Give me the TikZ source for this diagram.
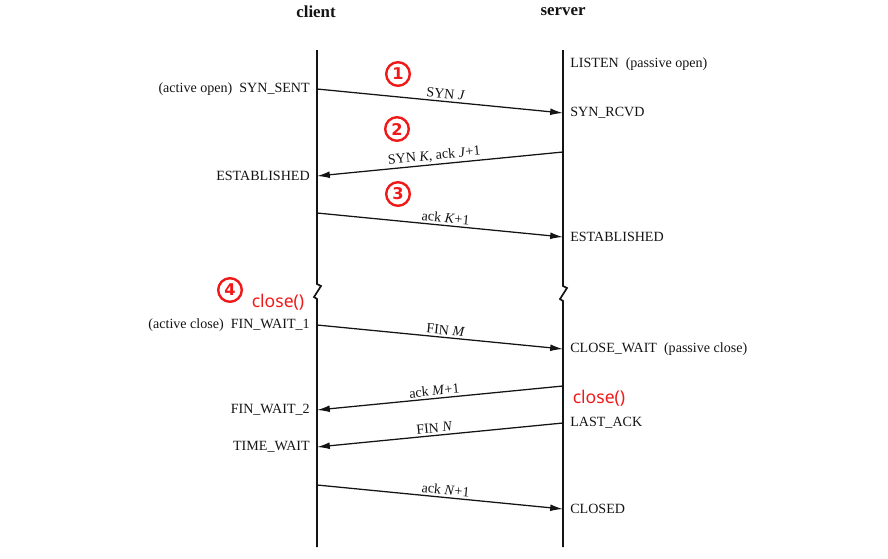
\documentclass[tikz,border=0pt]{standalone}
\usepackage{fontspec}
\setmainfont{Liberation Serif}
\newfontfamily\callfont{Noto Sans}
\newfontfamily\numfont{DejaVu Sans}
\usetikzlibrary{positioning,arrows.meta}
\definecolor{tcpRed}{RGB}{240,25,25}
\definecolor{tcpInk}{RGB}{20,20,20}
\tikzset{
    base/.style={font=\fontsize{10}{12}\selectfont, text=tcpInk, inner sep=1pt},
    header/.style={font=\fontsize{12}{14}\selectfont\bfseries, text=tcpInk},
    sstate/.style={base, anchor=west},
    cstate/.style={base, anchor=east},
    lifeline/.style={line width=1.2pt, color=tcpInk, line join=miter},
    msg/.style={-{Latex[length=3.2mm,width=1.7mm]}, line width=0.9pt, color=tcpInk},
    msglabel/.style={base, font=\fontsize{10}{12}\selectfont, sloped, above, pos=0.52, inner sep=1.5pt},
    stepnum/.style={circle, draw=tcpRed, line width=1.7pt, text=tcpRed, minimum size=5.9mm,
                    inner sep=0pt, font=\numfont\fontsize{11.5}{12}\selectfont\bfseries},
    callred/.style={font=\callfont\fontsize{12.5}{14}\selectfont, text=tcpRed, inner sep=1pt}
}

\begin{document}
\begin{tikzpicture}[x=0.025cm, y=-0.025cm]
  \useasboundingbox (0,0) rectangle (888,559);

  % Headers
  \node[header] (client) at (316,12) {client};
  \node[header] (server) at (563,12) {server};

  % Lifelines (with the break)
  \coordinate (cTop) at (317,50);
  \coordinate (cBot) at (317,547);
  \coordinate (sTop) at (563,50);
  \coordinate (sBot) at (563,547);
  \draw[lifeline] (cTop) -- (317,284) -- ++(4,2) -- ++(-7,11) -- ++(3,2) -- (cBot);
  \draw[lifeline] (sTop) -- (563,286) -- ++(4,2) -- ++(-7,11) -- ++(3,2) -- (sBot);

  % Points on the lifelines
  \coordinate (s0) at (563,64);
  \coordinate (c1) at (317,89);  \coordinate (s1) at (563,113);
  \coordinate (s2) at (563,152); \coordinate (c2) at (317,176);
  \coordinate (c3) at (317,213); \coordinate (s3) at (563,237);
  \coordinate (c4) at (317,325); \coordinate (s4) at (563,349);
  \coordinate (s5) at (563,386); \coordinate (c5) at (317,410);
  \coordinate (s6) at (563,423); \coordinate (c6) at (317,447);
  \coordinate (c7) at (317,485); \coordinate (s7) at (563,509);

  % Three-way handshake
  \draw[msg] (c1) -- (s1) node[msglabel] {SYN \textit{J}};
  \draw[msg] (s2) -- (c2) node[msglabel] {SYN \textit{K}, ack \textit{J}+1};
  \draw[msg] (c3) -- (s3) node[msglabel] {ack \textit{K}+1};

  % Connection termination
  \draw[msg] (c4) -- (s4) node[msglabel] {FIN \textit{M}};
  \draw[msg] (s5) -- (c5) node[msglabel] {ack \textit{M}+1};
  \draw[msg] (s6) -- (c6) node[msglabel] {FIN \textit{N}};
  \draw[msg] (c7) -- (s7) node[msglabel] {ack \textit{N}+1};

  % Server states
  \node[sstate, right=4pt of s0] (listen) {LISTEN\ \ (passive open)};
  \node[sstate, right=4pt of s1] (synrcvd) {SYN\_RCVD};
  \node[sstate, right=4pt of s3] (sestab) {ESTABLISHED};
  \node[sstate, right=4pt of s4] (closewait) {CLOSE\_WAIT\ \ (passive close)};
  \node[sstate, right=4pt of s6] (lastack) {LAST\_ACK};
  \node[sstate, right=4pt of s7] (closed) {CLOSED};

  % Client states
  \node[cstate, left=4pt of c1] (synsent) {(active open)\ \ SYN\_SENT};
  \node[cstate, left=4pt of c2] (cestab) {ESTABLISHED};
  \node[cstate, left=4pt of c4] (finwait1) {(active close)\ \ FIN\_WAIT\_1};
  \node[cstate, left=4pt of c5] (finwait2) {FIN\_WAIT\_2};
  \node[cstate, left=4pt of c6] (timewait) {TIME\_WAIT};

  % Step marks and calls
  \node[stepnum] (n1) at (398,74) {1};
  \node[stepnum] (n2) at (397,129) {2};
  \node[stepnum] (n3) at (398,194) {3};
  \node[stepnum] (n4) at (230,290) {4};
  \node[callred] (cclose) at (278,302) {close()};
  \node[callred] (sclose) at (599,398) {close()};
\end{tikzpicture}
\end{document}
